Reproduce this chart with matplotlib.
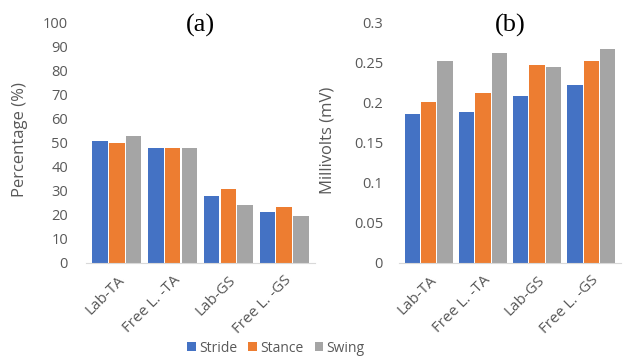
import numpy as np
import matplotlib
matplotlib.use('Agg')
import matplotlib.pyplot as plt

plt.rcParams['font.family'] = ['Open Sans', 'DejaVu Sans']

categories = ['Lab-TA', 'Free L. -TA', 'Lab-GS', 'Free L. -GS']
series = ['Stride', 'Stance', 'Swing']
colors = ['#4472C4', '#ED7D31', '#A5A5A5']

pct_stride = [50.7, 47.8, 27.7, 21.0]
pct_stance = [50.0, 47.8, 30.6, 23.1]
pct_swing = [52.9, 47.8, 24.1, 19.5]

mv_stride = [0.186, 0.188, 0.208, 0.221]
mv_stance = [0.201, 0.211, 0.246, 0.252]
mv_swing = [0.252, 0.261, 0.244, 0.267]

fig = plt.figure(figsize=(6.23, 3.6), dpi=100)
ax1 = fig.add_axes([86 / 623, 1 - 263 / 360, 229 / 623, 241 / 360])
ax2 = fig.add_axes([399 / 623, 1 - 263 / 360, 222 / 623, 241 / 360])

x = np.arange(len(categories))
w = 0.28
gray = '#595959'


def draw(ax, data, ylim, yticks, ylabel, title, ypad):
    for i, (vals, c) in enumerate(zip(data, colors)):
        ax.bar(x + (i - 1) * (w + 0.02), vals, width=w, color=c, label=series[i])
    ax.set_xlim(-0.55, len(categories) - 0.45)
    ax.set_ylim(*ylim)
    ax.set_yticks(yticks)
    ax.set_xticks(x)
    ax.set_xticklabels(categories, rotation=45, ha='right', rotation_mode='anchor')
    ax.tick_params(axis='both', length=0, colors=gray, labelsize=10.5)
    ax.tick_params(axis='x', pad=7, labelsize=11)
    ax.tick_params(axis='y', pad=ypad)
    for s in ['top', 'right', 'left']:
        ax.spines[s].set_visible(False)
    ax.spines['bottom'].set_color('#D9D9D9')
    ax.set_ylabel(ylabel, color=gray, fontsize=12)
    ax.text(0.5, 0.985, title, transform=ax.transAxes, ha='center', va='center',
            fontfamily='Liberation Serif', fontsize=19)


draw(ax1, [pct_stride, pct_stance, pct_swing], (0, 100), np.arange(0, 101, 10),
     'Percentage (%)', '(a)', 13)
draw(ax2, [mv_stride, mv_stance, mv_swing], (0, 0.3), [0, 0.05, 0.1, 0.15, 0.2, 0.25, 0.3],
     'Millivolts (mV)', '(b)', 11.5)
ax2.set_yticklabels(['0', '0.05', '0.1', '0.15', '0.2', '0.25', '0.3'])
ax1.yaxis.set_label_coords(28 / 623, 0.5, transform=fig.transFigure)
ax2.yaxis.set_label_coords(335 / 623, 0.5, transform=fig.transFigure)
for ax in (ax1, ax2):
    ax.yaxis.label.set_y(1 - 140 / 360)

handles, labels = ax1.get_legend_handles_labels()
leg = fig.legend(handles, labels, loc='center', bbox_to_anchor=(276 / 623, 1 - 348 / 360),
                 ncol=3, frameon=False, fontsize=10, handlelength=0.6, handleheight=0.6,
                 handletextpad=0.25, columnspacing=0.8)
for t in leg.get_texts():
    t.set_color(gray)

fig.savefig('out.png', dpi=100)
